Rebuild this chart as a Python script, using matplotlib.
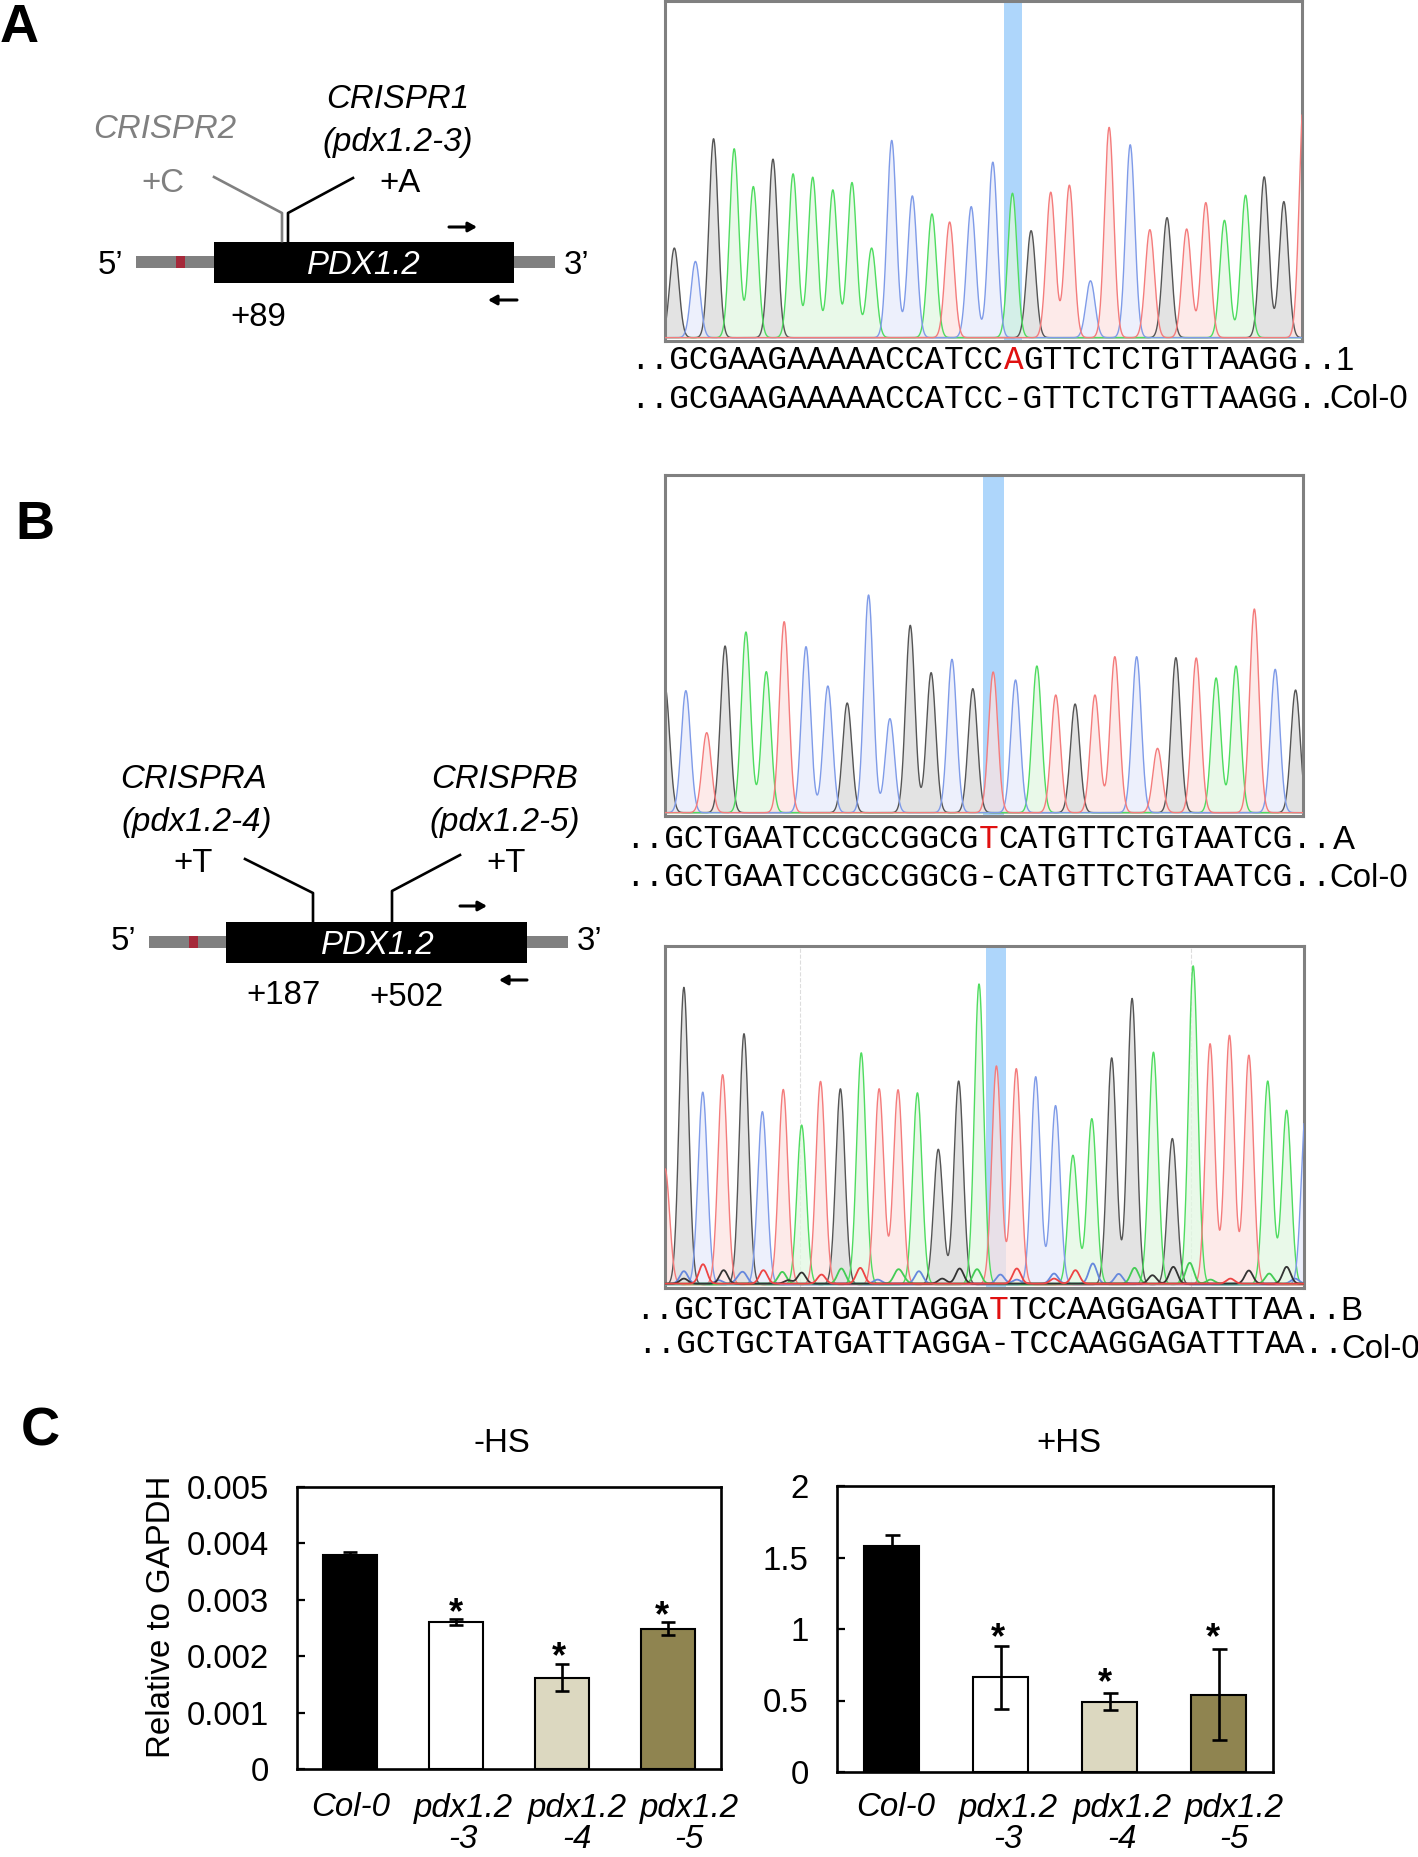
import numpy as np
import matplotlib
matplotlib.use('Agg')
import matplotlib.pyplot as plt

plt.rcParams['font.family'] = ['Liberation Sans', 'DejaVu Sans']

W, H = 1418, 1857
FS = 23.8
MONO = 'Liberation Mono'
MONO_FS = 23.6

# chromatogram A (scan position, peak height)
a_bases = 'GCGAAGAAAAACCATCCAGTTCTCTGTTAAGGT'
a_x = [51, 94, 131, 173, 212, 252, 293, 333, 374, 413, 453, 494, 536, 576, 612, 656, 700,
       740, 778, 818, 856, 899, 937, 980, 1020, 1055, 1095, 1134, 1172, 1215, 1253, 1293, 1334]
a_h = [268, 228, 595, 565, 452, 534, 490, 480, 442, 464, 268, 590, 424, 370, 346, 392, 525,
       432, 320, 435, 456, 170, 629, 577, 323, 359, 325, 404, 351, 426, 481, 407, 730]

# chromatogram B, guide A
ba_bases = 'GCTGAATCCGCCGGCGTCATGTTCTGTAATCG'
ba_x = [50, 92, 134, 171, 213, 254, 290, 334, 378, 417, 460, 503, 544, 586, 628, 670, 711,
        756, 799, 837, 876, 916, 956, 1000, 1042, 1079, 1120, 1160, 1200, 1237, 1279, 1320]
ba_h = [378, 366, 240, 500, 542, 423, 573, 498, 380, 329, 653, 282, 562, 420, 460, 372, 422,
        398, 440, 353, 326, 353, 468, 468, 193, 465, 464, 404, 440, 611, 430, 368]

# chromatogram B, guide B
bb_bases = 'TGCTGCTATGATTAGGATTCCAAGGAGATTTAAC'
bb_x = [52, 90, 128, 168, 211, 248, 290, 327, 365, 405, 447, 483, 521, 560, 602, 643, 684, 719,
        759, 798, 838, 873, 911, 951, 992, 1035, 1073, 1115, 1149, 1188, 1227, 1265, 1303, 1342]
bb_h = [345, 885, 573, 625, 747, 515, 581, 475, 605, 583, 690, 583, 580, 571, 403, 606, 895, 651,
        643, 619, 533, 385, 494, 675, 852, 692, 435, 949, 717, 742, 683, 606, 519, 525]
# secondary low peaks of the noisy trace
bb_low_bases = 'CTGCTAGTAT' + 'ACGACTCTCC' + 'AGGAGAGTAC' + 'GGCCTGCATC'
bb_low_x = [90, 128, 170, 210, 250, 288, 327, 367, 407, 445, 520, 563, 645, 680, 727, 760, 835,
            878, 913, 965, 997, 1033, 1075, 1108, 1227, 1268, 1303, 130, 530, 760, 300, 90, 200, 160,
            835, 610, 480, 1150, 1190, 1320]
bb_low_h = [37, 43, 40, 29, 40, 35, 33, 27, 45, 47, 35, 37, 45, 43, 27, 45, 30,
            40, 60, 29, 47, 25, 50, 62, 39, 30, 50, 15, 15, 12, 10, 15, 12, 10,
            15, 15, 12, 12, 15, 15]

# sequence rows
seq_a = ['..GCGAAGAAAAACCATCCAGTTCTCTGTTAAGG..', '..GCGAAGAAAAACCATCC-GTTCTCTGTTAAGG..']
seq_ba = ['..GCTGAATCCGCCGGCGTCATGTTCTGTAATCG..', '..GCTGAATCCGCCGGCG-CATGTTCTGTAATCG..']
seq_bb = ['..GCTGCTATGATTAGGATTCCAAGGAGATTTAA..', '..GCTGCTATGATTAGGA-TCCAAGGAGATTTAA..']

# qPCR bars
categories = ['Col-0', 'pdx1.2', 'pdx1.2', 'pdx1.2']
suffixes = ['', '-3', '-4', '-5']
minus_hs = [0.00379, 0.00261, 0.00162, 0.00249]
minus_hs_err = [0.00005, 0.00005, 0.00024, 0.00011]
minus_star_x = [1, 1.97, 2.94]
minus_star_y = [0.00288, 0.00211, 0.00284]
minus_ticks = [0, 0.001, 0.002, 0.003, 0.004, 0.005]
minus_ticklabels = ['0', '0.001', '0.002', '0.003', '0.004', '0.005']
plus_hs = [1.58, 0.663, 0.492, 0.541]
plus_hs_err = [0.077, 0.22, 0.058, 0.317]
plus_star_x = [0.98, 1.96, 2.945]
plus_star_y = [0.985, 0.67, 0.985]
plus_ticks = [0, 0.5, 1, 1.5, 2]
plus_ticklabels = ['0', '0.5', '1', '1.5', '2']
bar_colors = ['black', 'white', '#dcd8c0', '#8f8450']

line_col = {'G': '#555555', 'C': '#7f9be8', 'A': '#4fdc60', 'T': '#f47c7c'}
fill_col = {'G': '#dadada', 'C': '#e8ecfb', 'A': '#e2f8e2', 'T': '#fde4e2'}
low_col = {'G': '#333333', 'T': '#ee4444', 'A': '#44cc55', 'C': '#6688dd'}


def px_axes(fig, x0, y0, x1, y1):
    return fig.add_axes([x0 / W, 1 - y1 / H, (x1 - x0) / W, (y1 - y0) / H])


def trace(xs, x, h, sigma=9.3):
    y = np.zeros_like(xs)
    for c, v in zip(x, h):
        y = y + v * np.exp(-(xs - c) ** 2 / (2 * sigma ** 2))
    return y


def chromatogram(fig, box, xlim, top, bases, x, h, span, low=None):
    ax = px_axes(fig, *box)
    ax.set_xlim(*xlim)
    ax.set_ylim(-10, top)
    ax.axvspan(span[0], span[1], color='#aed6fb', lw=0, zorder=0)
    xs = np.linspace(xlim[0], xlim[1], 2600)
    for k, b in enumerate('GACT'):
        px = [c for c, s in zip(x, bases) if s == b]
        ph = [v for v, s in zip(h, bases) if s == b]
        y = trace(xs, px, ph)
        ax.fill_between(xs, 0, y, color=fill_col[b], alpha=0.75, lw=0, zorder=1)
        ax.plot(xs, y, color=line_col[b], lw=1.0, zorder=2 + k)
    if low is not None:
        for k, b in enumerate('CAGT'):
            px = [c for c, s in zip(low[1], low[0]) if s == b]
            ph = [v for v, s in zip(low[2], low[0]) if s == b]
            ax.plot(xs, trace(xs, px, ph, 8) + 3, color=low_col[b], lw=1.3, zorder=8)
    ax.set_xticks([])
    ax.set_yticks([])
    for s in ax.spines.values():
        s.set_color('#808080')
        s.set_linewidth(2.2)
    return ax


def seq_row(ax, x, y, text, red=None):
    # three pieces so the changed base can be red; the font is monospaced
    cw = 0.6001 * MONO_FS * 100 / 72
    if red is None:
        ax.text(x, y, text, family=MONO, fontsize=MONO_FS, va='baseline')
    else:
        ax.text(x, y, text[:red], family=MONO, fontsize=MONO_FS, va='baseline')
        ax.text(x + red * cw, y, text[red], family=MONO, fontsize=MONO_FS, color='#e01010', va='baseline')
        ax.text(x + (red + 1) * cw, y, text[red + 1:], family=MONO, fontsize=MONO_FS, va='baseline')


def ctext(ax, x, y, t, **kw):
    # centred label; the reference text sits a little under the box centre
    ax.text(x, y + 3, t, fontsize=FS, ha='center', va='center', **kw)


def gene(ax, x0, y0, label_xy, five, three, fwd, rev):
    # body of the gene model: grey flanks, red patch, black CDS
    ax.fill_between([x0 - 77.5, x0 + 341.5], y0 + 14, y0 + 26, color='#808080', lw=0)
    ax.fill_between([x0 - 37.5, x0 - 28.5], y0 + 14, y0 + 26, color='#a5293a', lw=0)
    ax.fill_between([x0, x0 + 300.5], y0, y0 + 41, color='black', lw=0)
    ctext(ax, label_xy[0], label_xy[1], 'PDX1.2', color='white', style='italic')
    ctext(ax, five[0], five[1], '5\u2019')
    ctext(ax, three[0], three[1], '3\u2019')
    for a, b in (fwd, rev):
        ax.annotate('', xy=b, xytext=a, arrowprops=dict(arrowstyle='-|>,head_width=0.28,head_length=0.5',
                                                       color='black', lw=2.2, shrinkA=0, shrinkB=0))


def bars(fig, box, vals, errs, ticks, ticklabels, star_x, star_y, capsize):
    ax = px_axes(fig, *box)
    pos = np.arange(len(vals))
    ax.bar(pos, vals, width=0.51, color=bar_colors, edgecolor='black', linewidth=1.5, zorder=2)
    ax.errorbar(pos, vals, yerr=errs, fmt='none', ecolor='black', elinewidth=1.9,
                capsize=capsize, capthick=1.9, zorder=3)
    ax.set_xlim(-0.5, 3.5)
    ax.set_ylim(0, ticks[-1])
    ax.set_xticks([])
    ax.set_yticks(ticks)
    ax.set_yticklabels(ticklabels, fontsize=FS)
    ax.tick_params(axis='y', direction='in', length=5.5, width=1.6, pad=20.5)
    for s in ax.spines.values():
        s.set_linewidth(1.9)
    for a, b in zip(star_x, star_y):
        ax.annotate('*', (a, b), xytext=(0, -17), textcoords='offset pixels', fontsize=26,
                    fontweight='bold', ha='center', va='baseline')
    return ax


fig = plt.figure(figsize=(W / 100, H / 100), dpi=100, facecolor='white')

# pixel overlay for the schematics and free text
ov = fig.add_axes([0, 0, 1, 1], zorder=5)
ov.set_xlim(0, W)
ov.set_ylim(H, 0)
ov.axis('off')
ov.patch.set_alpha(0)

# panel letters
for t, x, y in [('A', 0, 42), ('B', 15, 539), ('C', 21, 1445)]:
    ov.text(x, y, t, fontsize=39, fontweight='bold', va='baseline', ha='left')

# chromatograms
chromatogram(fig, (665, 1, 1302, 341), (32, 1330), 1007, a_bases, a_x, a_h, (722, 760))
chromatogram(fig, (665, 475, 1303, 816), (50, 1335), 1013, ba_bases, ba_x, ba_h, (690, 733))
bb = chromatogram(fig, (665, 946, 1304, 1288), (52, 1338), 1008, bb_bases, bb_x, bb_h, (699, 738),
                  low=(bb_low_bases, bb_low_x, bb_low_h))
bb.axvline(323, color='#dddddd', lw=0.8, ls='--', zorder=0)
bb.axvline(1110, color='#dddddd', lw=0.8, ls='--', zorder=0)

# sequences under the traces
seq_row(ov, 630, 369, seq_a[0], 19)
seq_row(ov, 630, 408, seq_a[1])
seq_row(ov, 625, 848, seq_ba[0], 18)
seq_row(ov, 625, 886, seq_ba[1])
seq_row(ov, 635, 1319, seq_bb[0], 18)
seq_row(ov, 637, 1353, seq_bb[1])
for t, x, y in [('1', 1336, 370), ('Col-0', 1329, 408), ('A', 1333, 849), ('Col-0', 1329, 887),
                ('B', 1340, 1320), ('Col-0', 1341, 1358)]:
    ov.text(x, y, t, fontsize=FS, va='baseline', ha='left')

# schematic A
gene(ov, 213.5, 242, (364, 263), (110, 262), (577, 262),
     ((449, 227), (477, 227)), ((517, 300), (488, 300)))
ov.plot([214, 282, 282], [177, 213, 241], color='#808080', lw=1.9)
ov.plot([353, 288, 288], [178, 213, 241], color='black', lw=1.9)
ctext(ov, 398, 97, 'CRISPR1', style='italic')
ctext(ov, 398, 140, '(pdx1.2-3)', style='italic')
ctext(ov, 165, 127, 'CRISPR2', style='italic', color='#808080')
ctext(ov, 163, 180, '+C', color='#808080')
ctext(ov, 400, 180, '+A')
ctext(ov, 258, 314, '+89')

# schematic B
gene(ov, 226, 921.5, (378, 943), (123, 939), (590, 939),
     ((460, 906), (487, 906)), ((527, 980), (499, 980)))
ov.plot([245, 313, 313], [859, 893, 921], color='black', lw=1.9)
ov.plot([460, 392, 392], [855, 891, 921], color='black', lw=1.9)
for t, x, y in [('CRISPRA', 194, 776), ('(pdx1.2-4)', 197, 819), ('CRISPRB', 505, 776), ('(pdx1.2-5)', 505, 819)]:
    ctext(ov, x, y, t, style='italic')
for t, x, y in [('+T', 193, 860), ('+T', 506, 860), ('+187', 283, 993), ('+502', 406, 995)]:
    ctext(ov, x, y, t)

# panel C
bars(fig, (297, 1487, 721, 1769), minus_hs, minus_hs_err, minus_ticks, minus_ticklabels,
     minus_star_x, minus_star_y, 4.7)
bars(fig, (837, 1486, 1273, 1772), plus_hs, plus_hs_err, plus_ticks, plus_ticklabels,
     plus_star_x, plus_star_y, 5.4)
ov.text(161, 1617, 'Relative to GAPDH', rotation=90, fontsize=FS, ha='center', va='center')
ctext(ov, 502, 1440, '-HS')
ctext(ov, 1069, 1440, '+HS')
for xs in ([351, 463, 577, 689], [896, 1008, 1122, 1234]):
    for x, c, s in zip(xs, categories, suffixes):
        ctext(ov, x, 1805, c, style='italic')
        if s:
            ov.text(x, 1848, s, style='italic', fontsize=FS, ha='center', va='baseline')

fig.savefig('out.png', dpi=100)
